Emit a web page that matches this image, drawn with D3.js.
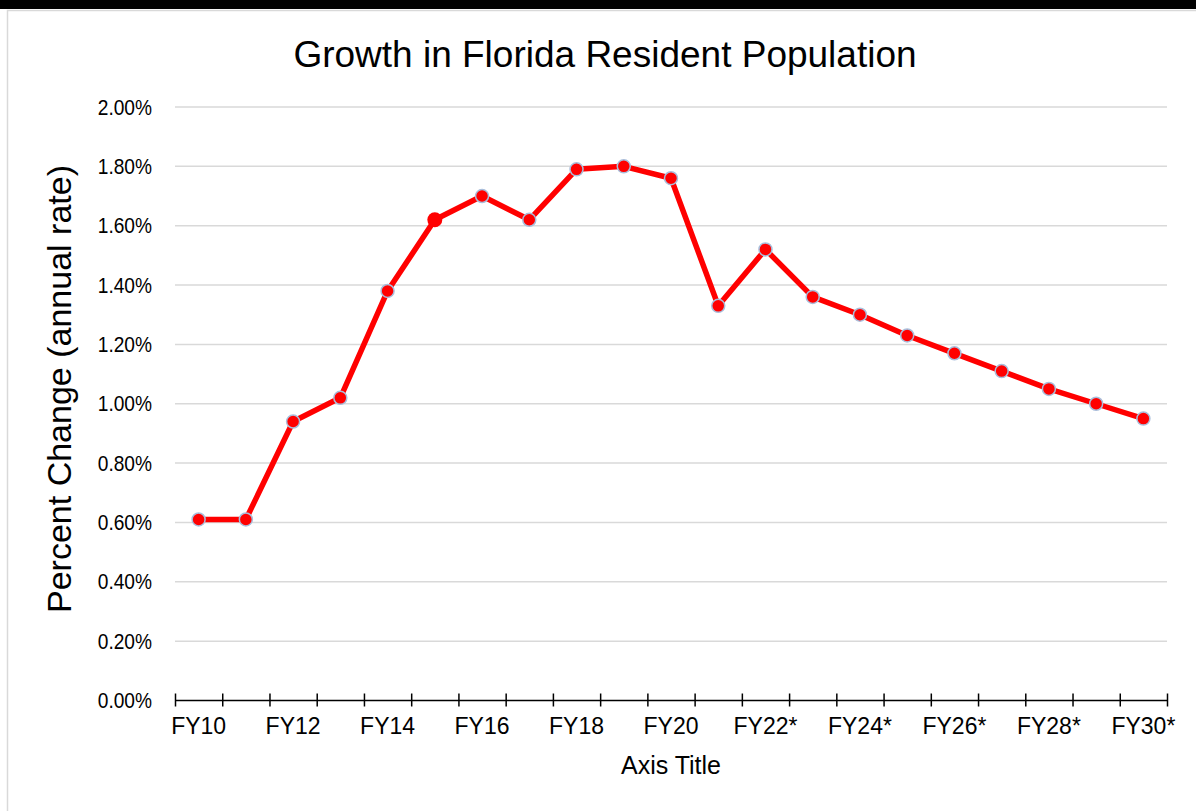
<!DOCTYPE html>
<html>
<head>
<meta charset="utf-8">
<script src="https://cdn.jsdelivr.net/npm/d3@7"></script>
<style>
    html, body { margin: 0; padding: 0; background: #fff; }
    svg { display: block; font-family: "Liberation Sans", Arial, sans-serif; }
</style>
</head>
<body>
<div id="chart"></div>
<script>
// --- Data ---
const categories = [
    "FY10", "FY11", "FY12", "FY13", "FY14", "FY15", "FY16", "FY17", "FY18", "FY19", "FY20",
    "FY21", "FY22*", "FY23*", "FY24*", "FY25*", "FY26*", "FY27*", "FY28*", "FY29*", "FY30*"
];
const growthPct = [
    0.61, 0.61, 0.94, 1.02, 1.38, 1.62, 1.70, 1.62, 1.79, 1.80, 1.76,
    1.33, 1.52, 1.36, 1.30, 1.23, 1.17, 1.11, 1.05, 1.00, 0.95
];
const yTicks = [0, 0.2, 0.4, 0.6, 0.8, 1.0, 1.2, 1.4, 1.6, 1.8, 2.0];
const labelledCats = categories.filter((d, i) => i % 2 === 0);
const highlighted = "FY15"; // drawn without the outline, like the source

const chartTitle = "Growth in Florida Resident Population";
const yTitle = "Percent Change (annual rate)";
const xTitle = "Axis Title";

// --- Layout ---
const W = 1196, H = 811;
const plot = { left: 175, right: 1167, top: 107, bottom: 700.5 };

const svg = d3.select("#chart").append("svg")
    .attr("width", W)
    .attr("height", H);

// frame: thick black bar on top, light grey chart border
svg.append("rect").attr("x", 0).attr("y", 0).attr("width", W).attr("height", 9).attr("fill", "#000");
svg.append("rect")
    .attr("x", 7.5).attr("y", 10.5)
    .attr("width", W + 20).attr("height", H + 20)
    .attr("fill", "none").attr("stroke", "#d9d9d9").attr("stroke-width", 1.5);

// --- Scales ---
const x = d3.scaleBand()
    .domain(categories)
    .range([plot.left, plot.right])
    .paddingInner(0).paddingOuter(0);

const xIdx = d3.scaleLinear()
    .domain([0, categories.length])
    .range([plot.left, plot.right]);

const y = d3.scaleLinear()
    .domain([0, 2])
    .range([plot.bottom, plot.top]);

// gridlines
svg.append("g")
    .selectAll("line")
    .data(yTicks.filter(d => d > 0))
    .enter().append("line")
    .attr("x1", plot.left).attr("x2", plot.right)
    .attr("y1", d => y(d)).attr("y2", d => y(d))
    .attr("stroke", "#d9d9d9")
    .attr("stroke-width", 1.5);

// y axis labels (the source font is a little condensed)
const squeeze = 0.87;
const yAxis = svg.append("g")
    .attr("transform", `translate(${plot.left},0)`)
    .call(d3.axisLeft(y).tickValues(yTicks).tickSize(0).tickPadding(23)
        .tickFormat(d => d.toFixed(2) + "%"));
yAxis.select(".domain").remove();
yAxis.selectAll("text")
    .attr("font-size", "22px")
    .attr("font-family", "Liberation Sans, Arial, sans-serif")
    .attr("fill", "#000")
    .attr("x", -23 / squeeze)
    .attr("transform", `scale(${squeeze},1)`);

// x axis: boundary ticks crossing the line
const xTickAxis = svg.append("g")
    .attr("transform", `translate(0,${plot.bottom - 7})`)
    .call(d3.axisBottom(xIdx).tickValues(d3.range(categories.length + 1)).tickSize(13).tickFormat(""));
xTickAxis.select(".domain").remove();
xTickAxis.selectAll("line").attr("stroke", "#000").attr("stroke-width", 1.5);

svg.append("line")
    .attr("x1", plot.left).attr("x2", plot.right)
    .attr("y1", plot.bottom).attr("y2", plot.bottom)
    .attr("stroke", "#000").attr("stroke-width", 1.5);

// x axis labels (every other category)
const xAxis = svg.append("g")
    .attr("transform", `translate(0,${plot.bottom})`)
    .call(d3.axisBottom(x).tickValues(labelledCats).tickSize(0).tickPadding(17));
xAxis.select(".domain").remove();
xAxis.selectAll("text")
    .attr("font-size", "23px")
    .attr("font-family", "Liberation Sans, Arial, sans-serif")
    .attr("fill", "#000");

// --- Line ---
const cx = d => x(d) + x.bandwidth() / 2;
const points = categories.map((c, i) => ({ cat: c, value: growthPct[i] }));

svg.append("path")
    .datum(points)
    .attr("fill", "none")
    .attr("stroke", "#ff0000")
    .attr("stroke-width", 5.5)
    .attr("stroke-linejoin", "round")
    .attr("d", d3.line().x(d => cx(d.cat)).y(d => y(d.value)));

svg.append("g")
    .selectAll("circle")
    .data(points)
    .enter().append("circle")
    .attr("cx", d => cx(d.cat))
    .attr("cy", d => y(d.value))
    .attr("r", d => d.cat === highlighted ? 7.5 : 6.5)
    .attr("fill", "#ff0000")
    .attr("stroke", d => d.cat === highlighted ? "none" : "#a9bedb")
    .attr("stroke-width", 1.5);

// --- Titles ---
svg.append("text")
    .attr("x", 605).attr("y", 67)
    .attr("text-anchor", "middle")
    .attr("font-size", "37px")
    .text(chartTitle);

svg.append("text")
    .attr("transform", `translate(71,389) rotate(-90)`)
    .attr("text-anchor", "middle")
    .attr("font-size", "34px")
    .text(yTitle);

svg.append("text")
    .attr("x", (plot.left + plot.right) / 2).attr("y", 774)
    .attr("text-anchor", "middle")
    .attr("font-size", "25px")
    .text(xTitle);
</script>
</body>
</html>
